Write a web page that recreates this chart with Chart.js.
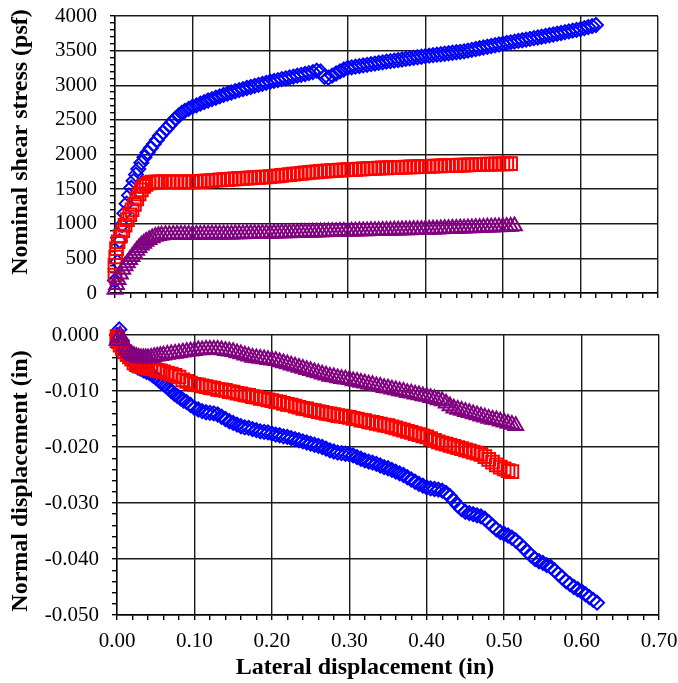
<!DOCTYPE html>
<html>
<head>
<meta charset="utf-8">
<title>Shear test</title>
<script src="https://cdn.jsdelivr.net/npm/chart.js@4.4.1/dist/chart.umd.min.js"></script>
<style>
  html, body { margin: 0; padding: 0; background: #fff; }
  #wrap { position: relative; width: 678px; height: 683px; }
  #shearChart { position: absolute; left: 0; top: 0; }
  #normalChart { position: absolute; left: 0; top: 310px; }
</style>
</head>
<body>
<div id="wrap">
  <canvas id="shearChart" width="678" height="310"></canvas>
  <canvas id="normalChart" width="678" height="373"></canvas>
</div>
<script>
// ---------------------------------------------------------------------------
// Data (lateral displacement in inches, shear in psf, normal disp. in inches)
// ---------------------------------------------------------------------------

// Blue diamonds
const blueX = [
  0, 0.003, 0.006, 0.009, 0.012, 0.015, 0.018, 0.021, 0.024, 0.027, 0.030, 0.034, 0.038, 0.042,
  0.046, 0.050, 0.054, 0.058, 0.062, 0.066, 0.070, 0.074, 0.078, 0.082, 0.086, 0.090, 0.095, 0.100,
  0.105, 0.110, 0.115, 0.120, 0.125, 0.130, 0.135, 0.140, 0.145, 0.150, 0.155, 0.160, 0.165, 0.170, 0.175, 0.180, 0.185, 0.190, 0.195, 0.200,
  0.205, 0.210, 0.215, 0.220, 0.225, 0.230, 0.235, 0.240, 0.245, 0.250, 0.255, 0.260, 0.265, 0.270, 0.275, 0.280, 0.285, 0.290, 0.295, 0.300,
  0.305, 0.310, 0.315, 0.320, 0.325, 0.330, 0.335, 0.340, 0.345, 0.350, 0.355, 0.360, 0.365, 0.370, 0.375, 0.380, 0.385, 0.390, 0.395, 0.400,
  0.405, 0.410, 0.415, 0.420, 0.425, 0.430, 0.435, 0.440, 0.445, 0.450, 0.455, 0.460, 0.465, 0.470, 0.475, 0.480, 0.485, 0.490, 0.495, 0.500,
  0.505, 0.510, 0.515, 0.520, 0.525, 0.530, 0.535, 0.540, 0.545, 0.550, 0.555, 0.560, 0.565, 0.570, 0.575, 0.580, 0.585, 0.590, 0.595, 0.600,
  0.605, 0.610, 0.615, 0.620
];
const blueShear = [
  180, 450, 750, 980, 1150, 1290, 1410, 1520, 1620, 1710, 1790, 1880, 1960, 2030,
  2090, 2150, 2210, 2270, 2320, 2370, 2420, 2470, 2520, 2560, 2600, 2630, 2660, 2690,
  2710, 2735, 2757, 2780, 2800, 2820, 2840, 2860, 2878, 2895, 2913, 2930, 2945, 2960, 2975, 2990, 3005, 3020, 3035, 3050,
  3062, 3075, 3088, 3100, 3112, 3125, 3138, 3150, 3163, 3176, 3190, 3210, 3200, 3120, 3110, 3140, 3170, 3200, 3228, 3250,
  3259, 3268, 3277, 3286, 3295, 3304, 3313, 3322, 3331, 3340, 3348, 3356, 3364, 3372, 3380, 3388, 3396, 3404, 3412, 3420,
  3427, 3434, 3441, 3448, 3455, 3462, 3469, 3476, 3483, 3490, 3501, 3512, 3523, 3534, 3545, 3556, 3567, 3578, 3589, 3600,
  3610, 3620, 3630, 3640, 3650, 3660, 3670, 3680, 3690, 3700, 3711, 3722, 3733, 3744, 3755, 3766, 3777, 3788, 3799, 3810,
  3825, 3840, 3855, 3870
];
const blueNormal = [
  0.0000, 0.0010, -0.0010, -0.0020, -0.0030, -0.0038, -0.0045, -0.0050, -0.0055, -0.0058, -0.0060, -0.0063, -0.0066, -0.0068,
  -0.0072, -0.0076, -0.0081, -0.0086, -0.0090, -0.0095, -0.0100, -0.0105, -0.0109, -0.0113, -0.0117, -0.0120, -0.0125, -0.0130,
  -0.0133, -0.0136, -0.0138, -0.0139, -0.0140, -0.0142, -0.0146, -0.0150, -0.0154, -0.0157, -0.0160, -0.0163, -0.0165, -0.0166, -0.0168, -0.0170, -0.0172, -0.0173, -0.0174, -0.0176,
  -0.0178, -0.0179, -0.0181, -0.0182, -0.0184, -0.0186, -0.0188, -0.0190, -0.0192, -0.0194, -0.0196, -0.0198, -0.0200, -0.0203, -0.0206, -0.0208, -0.0210, -0.0211, -0.0212, -0.0213,
  -0.0215, -0.0218, -0.0221, -0.0224, -0.0226, -0.0228, -0.0230, -0.0233, -0.0236, -0.0238, -0.0241, -0.0244, -0.0247, -0.0250, -0.0254, -0.0258, -0.0262, -0.0266, -0.0269, -0.0272,
  -0.0274, -0.0275, -0.0276, -0.0278, -0.0282, -0.0288, -0.0296, -0.0304, -0.0311, -0.0316, -0.0318, -0.0320, -0.0322, -0.0324, -0.0328, -0.0334, -0.0341, -0.0347, -0.0352, -0.0355,
  -0.0358, -0.0362, -0.0367, -0.0373, -0.0380, -0.0387, -0.0394, -0.0400, -0.0404, -0.0407, -0.0411, -0.0414, -0.0420, -0.0427, -0.0433, -0.0440, -0.0445, -0.0450, -0.0454, -0.0458,
  -0.0463, -0.0468, -0.0473, -0.0478
];

// Red squares
const redX = [
  0, 0, 0.001, 0.002, 0.004, 0.007, 0.010, 0.013, 0.016, 0.019, 0.022, 0.025, 0.028, 0.031, 0.034,
  0.037, 0.040, 0.044, 0.048, 0.052, 0.056, 0.060, 0.065, 0.070, 0.075, 0.080, 0.085, 0.090, 0.095, 0.100,
  0.105, 0.110, 0.115, 0.120, 0.125, 0.130, 0.135, 0.140, 0.145, 0.150, 0.155, 0.160, 0.165, 0.170, 0.175, 0.180, 0.185, 0.190, 0.195, 0.200,
  0.205, 0.210, 0.215, 0.220, 0.225, 0.230, 0.235, 0.240, 0.245, 0.250, 0.255, 0.260, 0.265, 0.270, 0.275, 0.280, 0.285, 0.290, 0.295, 0.300,
  0.305, 0.310, 0.315, 0.320, 0.325, 0.330, 0.335, 0.340, 0.345, 0.350, 0.355, 0.360, 0.365, 0.370, 0.375, 0.380, 0.385, 0.390, 0.395, 0.400,
  0.405, 0.410, 0.415, 0.420, 0.425, 0.430, 0.435, 0.440, 0.445, 0.450, 0.455, 0.460, 0.465, 0.470, 0.475, 0.480, 0.485, 0.490, 0.495, 0.500,
  0.505, 0.510
];
const redShear = [
  260, 400, 520, 640, 740, 820, 900, 980, 1060, 1130, 1200, 1280, 1360, 1430, 1490,
  1540, 1570, 1590, 1600, 1602, 1604, 1605, 1606, 1606, 1606, 1605, 1604, 1604, 1604, 1604,
  1608, 1612, 1616, 1620, 1624, 1628, 1632, 1636, 1640, 1644, 1648, 1652, 1656, 1660, 1663, 1666, 1669, 1672, 1675, 1680,
  1686, 1692, 1698, 1704, 1710, 1716, 1722, 1728, 1734, 1740, 1745, 1750, 1755, 1760, 1764, 1768, 1771, 1774, 1777, 1780,
  1783, 1786, 1789, 1792, 1795, 1798, 1801, 1804, 1806, 1808, 1810, 1812, 1814, 1816, 1818, 1820, 1822, 1824, 1826, 1828,
  1830, 1832, 1834, 1836, 1838, 1840, 1842, 1844, 1846, 1848, 1850, 1852, 1854, 1856, 1858, 1860, 1861, 1862, 1863, 1864,
  1866, 1868
];
const redNormal = [
  -0.0003, -0.0010, -0.0006, -0.0012, -0.0018, -0.0024, -0.0030, -0.0035, -0.0039, -0.0043, -0.0050, -0.0053, -0.0055, -0.0056, -0.0057,
  -0.0058, -0.0059, -0.0060, -0.0061, -0.0063, -0.0064, -0.0066, -0.0068, -0.0070, -0.0072, -0.0075, -0.0080, -0.0083, -0.0086, -0.0088,
  -0.0089, -0.0091, -0.0092, -0.0094, -0.0095, -0.0097, -0.0098, -0.0099, -0.0101, -0.0102, -0.0104, -0.0105, -0.0107, -0.0108, -0.0110, -0.0111, -0.0113, -0.0114, -0.0116, -0.0117,
  -0.0119, -0.0120, -0.0122, -0.0124, -0.0125, -0.0127, -0.0129, -0.0131, -0.0132, -0.0134, -0.0135, -0.0137, -0.0138, -0.0140, -0.0141, -0.0142, -0.0144, -0.0145, -0.0146, -0.0147,
  -0.0149, -0.0150, -0.0152, -0.0153, -0.0155, -0.0156, -0.0158, -0.0159, -0.0161, -0.0162, -0.0164, -0.0166, -0.0168, -0.0170, -0.0172, -0.0174, -0.0176, -0.0178, -0.0180, -0.0182,
  -0.0185, -0.0188, -0.0191, -0.0193, -0.0195, -0.0197, -0.0199, -0.0201, -0.0203, -0.0205, -0.0207, -0.0209, -0.0211, -0.0213, -0.0217, -0.0222, -0.0227, -0.0232, -0.0236, -0.0239,
  -0.0242, -0.0244
];

// Purple triangles
const purpleX = [
  0, 0.002, 0.004, 0.007, 0.010, 0.013, 0.016, 0.019, 0.022, 0.025, 0.028, 0.031, 0.034, 0.037,
  0.040, 0.044, 0.048, 0.052, 0.056, 0.060, 0.065, 0.070, 0.075, 0.080, 0.085, 0.090, 0.095, 0.100,
  0.105, 0.110, 0.115, 0.120, 0.125, 0.130, 0.135, 0.140, 0.145, 0.150, 0.155, 0.160, 0.165, 0.170, 0.175, 0.180, 0.185, 0.190, 0.195, 0.200,
  0.205, 0.210, 0.215, 0.220, 0.225, 0.230, 0.235, 0.240, 0.245, 0.250, 0.255, 0.260, 0.265, 0.270, 0.275, 0.280, 0.285, 0.290, 0.295, 0.300,
  0.305, 0.310, 0.315, 0.320, 0.325, 0.330, 0.335, 0.340, 0.345, 0.350, 0.355, 0.360, 0.365, 0.370, 0.375, 0.380, 0.385, 0.390, 0.395, 0.400,
  0.405, 0.410, 0.415, 0.420, 0.425, 0.430, 0.435, 0.440, 0.445, 0.450, 0.455, 0.460, 0.465, 0.470, 0.475, 0.480, 0.485, 0.490, 0.495, 0.500,
  0.505, 0.510, 0.515
];
const purpleShear = [
  50, 120, 190, 270, 340, 390, 435, 480, 525, 570, 615, 655, 690, 715,
  745, 770, 795, 815, 828, 835, 840, 842, 843, 844, 845, 845, 845, 845,
  846, 846, 847, 847, 848, 848, 849, 849, 850, 850, 851, 852, 853, 854, 855, 856, 857, 858, 859, 860,
  862, 863, 865, 866, 868, 869, 871, 872, 874, 875, 877, 878, 880, 881, 883, 884, 886, 887, 888, 890,
  891, 892, 894, 895, 896, 898, 899, 900, 902, 903, 904, 906, 907, 908, 910, 911, 912, 914, 915, 916,
  918, 920, 922, 924, 926, 928, 930, 932, 934, 936, 938, 940, 942, 944, 946, 948, 950, 952, 954, 956,
  958, 962, 966
];
const purpleNormal = [
  -0.0010, -0.0004, 0.0000, -0.0010, -0.0020, -0.0027, -0.0032, -0.0035, -0.0037, -0.0039, -0.0040, -0.0041, -0.0041, -0.0041,
  -0.0041, -0.0040, -0.0039, -0.0038, -0.0037, -0.0036, -0.0035, -0.0034, -0.0033, -0.0032, -0.0031, -0.0030, -0.0029, -0.0028,
  -0.0027, -0.0027, -0.0026, -0.0026, -0.0026, -0.0026, -0.0027, -0.0028, -0.0029, -0.0030, -0.0032, -0.0034, -0.0036, -0.0038, -0.0040, -0.0041, -0.0042, -0.0043, -0.0044, -0.0045,
  -0.0046, -0.0048, -0.0050, -0.0052, -0.0054, -0.0056, -0.0058, -0.0060, -0.0062, -0.0064, -0.0066, -0.0068, -0.0070, -0.0072, -0.0074, -0.0075, -0.0077, -0.0078, -0.0079, -0.0080,
  -0.0082, -0.0083, -0.0085, -0.0086, -0.0088, -0.0089, -0.0091, -0.0092, -0.0094, -0.0095, -0.0097, -0.0098, -0.0100, -0.0101, -0.0103, -0.0104, -0.0106, -0.0107, -0.0109, -0.0110,
  -0.0112, -0.0114, -0.0116, -0.0118, -0.0122, -0.0127, -0.0131, -0.0133, -0.0135, -0.0137, -0.0139, -0.0141, -0.0143, -0.0145, -0.0147, -0.0149, -0.0151, -0.0152, -0.0154, -0.0156,
  -0.0158, -0.0160, -0.0162
];

// ---------------------------------------------------------------------------
// Helpers
// ---------------------------------------------------------------------------
const SERIF = '"Liberation Serif", "Times New Roman", serif';

function isMultiple(v, step) {
  const q = v / step;
  return Math.abs(q - Math.round(q)) < 1e-6;
}

function toPoints(xs, ys) {
  return xs.map((x, i) => ({ x: x, y: ys[i] }));
}

// Open markers, no connecting lines. Purple first so it sits on top.
function buildDatasets(purpleY, redY, blueY) {
  const base = { showLine: false, clip: false, pointBackgroundColor: 'rgba(0,0,0,0)', pointBorderWidth: 2 };
  return [
    Object.assign({}, base, { label: 'Triangle', data: toPoints(purpleX, purpleY), pointStyle: 'triangle', pointRadius: 8.5, pointBorderColor: '#800080' }),
    Object.assign({}, base, { label: 'Square', data: toPoints(redX, redY), pointStyle: 'rect', pointRadius: 9, pointBorderColor: '#ff0000' }),
    Object.assign({}, base, { label: 'Diamond', data: toPoints(blueX, blueY), pointStyle: 'rectRot', pointRadius: 7, pointBorderColor: '#0000ff' })
  ];
}

// Draws the axis titles at the spots they occupy in the original figure
const axisTitles = {
  id: 'axisTitles',
  afterDraw(chart, args, opts) {
    const ctx = chart.ctx;
    ctx.save();
    ctx.fillStyle = '#000';
    ctx.font = 'bold 24px ' + SERIF;
    ctx.textAlign = 'center';
    ctx.textBaseline = 'middle';
    if (opts.y) {
      ctx.save();
      ctx.translate(opts.y.x, opts.y.y);
      ctx.rotate(-Math.PI / 2);
      ctx.fillText(opts.y.text, 0, 0);
      ctx.restore();
    }
    if (opts.x) {
      ctx.fillText(opts.x.text, opts.x.x, opts.x.y);
    }
    ctx.restore();
  }
};

function gridFor(majorStep) {
  return {
    color: c => (c.tick && isMultiple(c.tick.value, majorStep)) ? '#1a1a1a' : 'rgba(0,0,0,0)',
    tickColor: '#000',
    tickLength: 5,
    lineWidth: 1.4
  };
}

// fixed axis box size, and no extra edge padding from the tick labels
function fixSize(prop, px) {
  return s => {
    s[prop] = px;
    s.paddingTop = 0; s.paddingBottom = 0; s.paddingLeft = 0; s.paddingRight = 0;
  };
}

const xTicksBase = { stepSize: 0.02, autoSkip: false, maxRotation: 0, minRotation: 0 };

// ---------------------------------------------------------------------------
// Top panel: nominal shear stress
// ---------------------------------------------------------------------------
new Chart(document.getElementById('shearChart'), {
  type: 'scatter',
  data: { datasets: buildDatasets(purpleShear, redShear, blueShear) },
  options: {
    responsive: false,
    animation: false,
    events: [],
    layout: { autoPadding: false, padding: { top: 16, right: 20, left: 0, bottom: 0 } },
    plugins: {
      legend: { display: false },
      tooltip: { enabled: false },
      axisTitles: { y: { text: 'Nominal shear stress (psf)', x: 21, y: 142 } }
    },
    scales: {
      x: {
        type: 'linear', min: 0, max: 0.7,
        ticks: Object.assign({}, xTicksBase, { display: false }),
        grid: gridFor(0.1),
        border: { color: '#000', width: 1.4 },
        afterFit: fixSize('height', 17)
      },
      y: {
        type: 'linear', min: 0, max: 4000,
        ticks: {
          stepSize: 100, autoSkip: false, padding: 13, color: '#000',
          font: { family: SERIF, size: 21 },
          callback: v => isMultiple(v, 500) ? String(v) : ''
        },
        grid: gridFor(500),
        border: { color: '#000', width: 1.4 },
        afterFit: fixSize('width', 115)
      }
    }
  },
  plugins: [axisTitles]
});

// ---------------------------------------------------------------------------
// Bottom panel: normal displacement
// ---------------------------------------------------------------------------
new Chart(document.getElementById('normalChart'), {
  type: 'scatter',
  data: { datasets: buildDatasets(purpleNormal, redNormal, blueNormal) },
  options: {
    responsive: false,
    animation: false,
    events: [],
    layout: { autoPadding: false, padding: { top: 25, right: 19, left: 0, bottom: 0 } },
    plugins: {
      legend: { display: false },
      tooltip: { enabled: false },
      axisTitles: {
        y: { text: 'Normal displacement (in)', x: 21, y: 171 },
        x: { text: 'Lateral displacement (in)', x: 365, y: 358 }
      }
    },
    scales: {
      x: {
        type: 'linear', min: 0, max: 0.7,
        ticks: Object.assign({}, xTicksBase, {
          padding: 9, color: '#000',
          font: { family: SERIF, size: 21 },
          callback: v => isMultiple(v, 0.1) ? v.toFixed(2) : ''
        }),
        grid: gridFor(0.1),
        border: { color: '#000', width: 1.4 },
        afterFit: fixSize('height', 68)
      },
      y: {
        type: 'linear', min: -0.05, max: 0,
        ticks: {
          stepSize: 0.002, autoSkip: false, padding: 13, color: '#000',
          font: { family: SERIF, size: 21 },
          callback: v => isMultiple(v, 0.01) ? (Math.abs(v) < 1e-9 ? '0.000' : v.toFixed(3)) : ''
        },
        grid: gridFor(0.01),
        border: { color: '#000', width: 1.4 },
        afterFit: fixSize('width', 117)
      }
    }
  },
  plugins: [axisTitles]
});
</script>
</body>
</html>
